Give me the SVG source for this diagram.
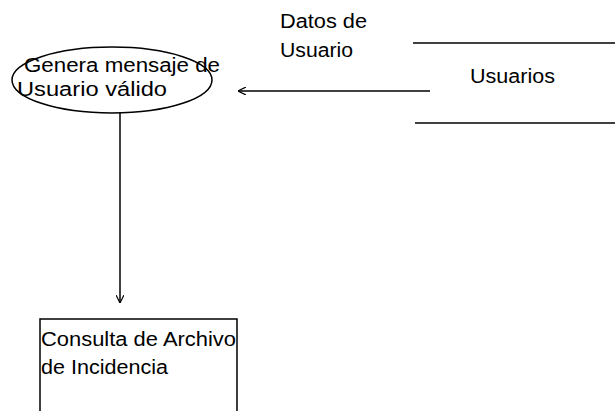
<svg xmlns="http://www.w3.org/2000/svg" width="615" height="411" viewBox="0 0 615 411">
<style>
text{font-family:"Liberation Sans",Arial,sans-serif;font-size:20px;fill:#000}
.ln{stroke:#000;stroke-width:1.5;fill:none}
</style>
<defs>
<marker id="ah" viewBox="0 0 10 10" refX="10" refY="5" markerWidth="8" markerHeight="8" markerUnits="userSpaceOnUse" orient="auto">
<path d="M0,0 L10,5 L0,10" fill="none" stroke="#000" stroke-width="1.5"/>
</marker>
</defs>
<rect width="615" height="411" fill="#fff"/>
<g id="proceso">
<ellipse class="ln" cx="112" cy="80" rx="100" ry="33"/>
<text x="24" y="72" textLength="196" lengthAdjust="spacingAndGlyphs">Genera mensaje de</text>
<text x="17" y="96" textLength="150" lengthAdjust="spacingAndGlyphs">Usuario válido</text>
</g>
<g id="usuarios">
<line class="ln" x1="413" y1="43" x2="615" y2="43"/>
<line class="ln" x1="415" y1="123" x2="615" y2="123"/>
<text x="470" y="83" textLength="85" lengthAdjust="spacingAndGlyphs">Usuarios</text>
</g>
<g id="consulta">
<path class="ln" d="M40,420 V319 H237 V420"/>
<text x="41" y="346" textLength="195" lengthAdjust="spacingAndGlyphs">Consulta de Archivo</text>
<text x="41" y="374" textLength="127" lengthAdjust="spacingAndGlyphs">de Incidencia</text>
</g>
<g id="conectores">
<line class="ln" x1="430" y1="91" x2="238" y2="91" marker-end="url(#ah)"/>
<text x="280" y="28" textLength="87" lengthAdjust="spacingAndGlyphs">Datos de</text>
<text x="280" y="57" textLength="73" lengthAdjust="spacingAndGlyphs">Usuario</text>
<line class="ln" x1="120" y1="113" x2="120" y2="303" marker-end="url(#ah)"/>
</g>
</svg>
